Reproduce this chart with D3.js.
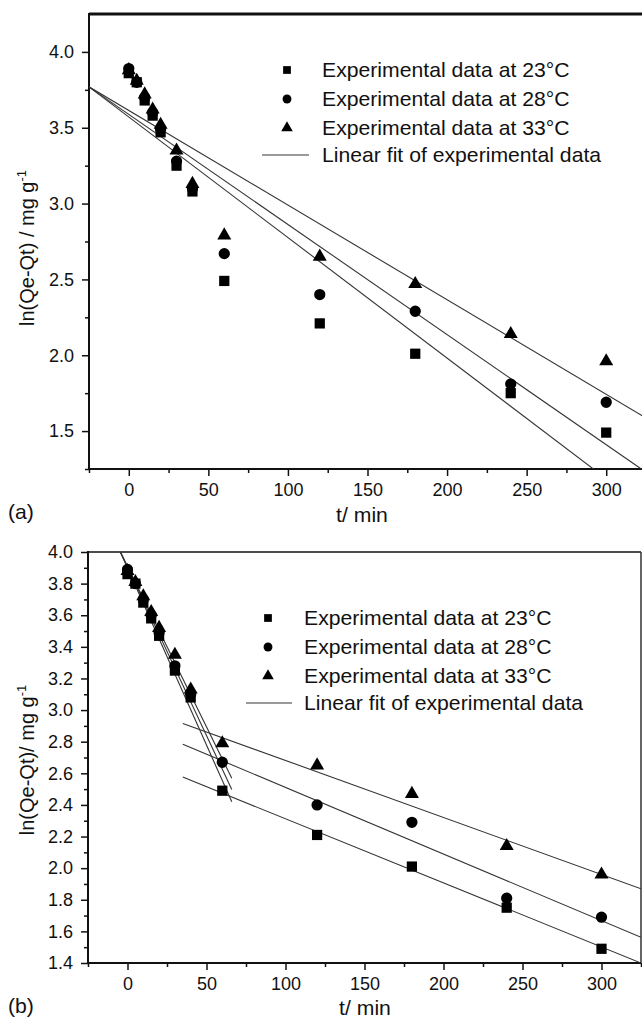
<!DOCTYPE html>
<html>
<head>
<meta charset="utf-8">
<script src="https://cdn.jsdelivr.net/npm/d3@7"></script>
<style>
  body { margin: 0; background: #fff; }
  svg { display: block; font-family: "Liberation Sans", Arial, sans-serif; }
  .tick text { font-size: 18px; fill: #111; }
  .domain { display: none; }
</style>
</head>
<body>
<div id="container"></div>
<script>
// data: sampling times (min) and ln(Qe-Qt)
var times = [0, 5, 10, 15, 20, 30, 40, 60, 120, 180, 240, 300];
var q23 = [3.86, 3.80, 3.68, 3.58, 3.47, 3.25, 3.08, 2.49, 2.21, 2.01, 1.75, 1.49];
var q28 = [3.89, 3.80, 3.70, 3.60, 3.49, 3.28, 3.10, 2.67, 2.40, 2.29, 1.81, 1.69];
var q33 = [3.88, 3.81, 3.72, 3.62, 3.52, 3.35, 3.13, 2.79, 2.65, 2.47, 2.14, 1.96];
var seriesNames = ["Experimental data at 23°C", "Experimental data at 28°C", "Experimental data at 33°C"];

// panel (a): one linear fit per temperature
var fitA_slope = [-0.00795, -0.00726, -0.00624];
var fitA_int = [3.571, 3.588, 3.614];
var fitA_range = [-25, 325];

// panel (b): two-stage fits
var fitB1_slope = [-0.0224, -0.0213, -0.0203];
var fitB1_int = [3.899, 3.904, 3.909];
var fitB1_range = [-4.5, 66];
var fitB2_slope = [-0.004055, -0.004214, -0.003607];
var fitB2_int = [2.718, 2.932, 3.042];
var fitB2_range = [35, 325];

var xMajor = [0, 50, 100, 150, 200, 250, 300];
var xMinor = [-25, 25, 75, 125, 175, 225, 275, 325];
var yMajorA = [1.5, 2.0, 2.5, 3.0, 3.5, 4.0];
var yMinorA = [1.25, 1.75, 2.25, 2.75, 3.25, 3.75];
var yMajorB = [1.4, 1.6, 1.8, 2.0, 2.2, 2.4, 2.6, 2.8, 3.0, 3.2, 3.4, 3.6, 3.8, 4.0];
var yMinorB = [1.5, 1.7, 1.9, 2.1, 2.3, 2.5, 2.7, 2.9, 3.1, 3.3, 3.5, 3.7, 3.9];

var width = 642, height = 1020;
var svg = d3.select("div#container").append("svg")
    .attr("width", width)
    .attr("height", height);

var symbols = [d3.symbolSquare, d3.symbolCircle, d3.symbolTriangle];
var symSize = [105, 100, 85];
var legSize = [60, 62, 58];
var allSeries = [q23, q28, q33];

// the original figure is a bit wider than tall, stretch text to match
function wideText(sel, x, y, txt) {
  return sel.append("text")
    .attr("transform", "translate(" + x + "," + y + ") scale(1.06,1)")
    .style("font-size", "20px").attr("fill", "#111").text(txt);
}

function drawPanel(cfg) {
  var x = d3.scaleLinear().domain([-25, 325]).range([cfg.left, cfg.right]);
  var y = d3.scaleLinear().domain(cfg.yDomain).range([cfg.bottom, cfg.top]);
  var g = svg.append("g").attr("id", cfg.id);

  g.append("clipPath").attr("id", cfg.id + "clip")
    .append("rect")
      .attr("x", cfg.left).attr("y", cfg.top)
      .attr("width", cfg.right - cfg.left).attr("height", cfg.bottom - cfg.top);

  // axes with major + minor ticks
  g.append("g").attr("transform", "translate(0," + cfg.bottom + ")")
    .call(d3.axisBottom(x).tickValues(xMajor).tickSize(7).tickPadding(7).tickFormat(d3.format("d")))
    .selectAll("line").attr("stroke", "#111").attr("stroke-width", 1.5);
  g.append("g").attr("transform", "translate(0," + cfg.bottom + ")")
    .call(d3.axisBottom(x).tickValues(xMinor).tickSize(4).tickFormat(""))
    .selectAll("line").attr("stroke", "#111").attr("stroke-width", 1.5);
  g.append("g").attr("transform", "translate(" + cfg.left + ",0)")
    .call(d3.axisLeft(y).tickValues(cfg.yMajor).tickSize(7).tickPadding(8).tickFormat(d3.format(".1f")))
    .selectAll("line").attr("stroke", "#111").attr("stroke-width", 1.5);
  g.append("g").attr("transform", "translate(" + cfg.left + ",0)")
    .call(d3.axisLeft(y).tickValues(cfg.yMinor).tickSize(4).tickFormat(""))
    .selectAll("line").attr("stroke", "#111").attr("stroke-width", 1.5);

  // frame
  g.append("line").attr("x1", cfg.left).attr("x2", cfg.right).attr("y1", cfg.top).attr("y2", cfg.top)
    .attr("stroke", "#111").attr("stroke-width", cfg.topWidth);
  g.append("line").attr("x1", cfg.right).attr("x2", cfg.right).attr("y1", cfg.top).attr("y2", cfg.bottom)
    .attr("stroke", "#333").attr("stroke-width", 1.5);
  g.append("line").attr("x1", cfg.left).attr("x2", cfg.left).attr("y1", cfg.top - 1).attr("y2", cfg.bottom + 1)
    .attr("stroke", "#111").attr("stroke-width", 2);
  g.append("line").attr("x1", cfg.left - 1).attr("x2", cfg.right).attr("y1", cfg.bottom).attr("y2", cfg.bottom)
    .attr("stroke", "#111").attr("stroke-width", 2);

  // fit lines
  var fits = g.append("g").attr("clip-path", "url(#" + cfg.id + "clip)");
  cfg.fits.forEach(function(f) {
    f.slope.forEach(function(s, i) {
      var t0 = f.range[0], t1 = f.range[1];
      fits.append("line")
        .attr("x1", x(t0)).attr("y1", y(f.intercept[i] + s * t0))
        .attr("x2", x(t1)).attr("y2", y(f.intercept[i] + s * t1))
        .attr("stroke", "#333").attr("stroke-width", 1.1);
    });
  });

  // markers
  allSeries.forEach(function(vals, i) {
    g.append("g").selectAll("path")
      .data(vals)
      .enter()
      .append("path")
        .attr("d", d3.symbol().type(symbols[i]).size(symSize[i]))
        .attr("transform", function(d, k) { return "translate(" + x(times[k]) + "," + y(d) + ")"; })
        .attr("fill", "#000");
  });

  // legend
  var leg = g.append("g");
  seriesNames.forEach(function(name, i) {
    var ry = cfg.legY + i * cfg.legStep;
    leg.append("path")
      .attr("d", d3.symbol().type(symbols[i]).size(legSize[i]))
      .attr("transform", "translate(" + cfg.legMarkX + "," + ry + ")")
      .attr("fill", "#000");
    wideText(leg, cfg.legTextX, ry + 7, name);
  });
  var ly = cfg.legY + 3 * cfg.legStep - 2;
  leg.append("line").attr("x1", cfg.legLine[0]).attr("x2", cfg.legLine[1]).attr("y1", ly).attr("y2", ly)
    .attr("stroke", "#777").attr("stroke-width", 1.5);
  wideText(leg, cfg.legTextX, ly + 7, "Linear fit of experimental data");

  // axis titles
  wideText(g, cfg.xTitleX, cfg.xTitleY, "t/ min").attr("text-anchor", "middle");
  wideText(g, 8, cfg.panelY, cfg.panel);
  var yt = g.append("text")
    .attr("transform", "translate(34," + cfg.yTitleY + ") rotate(-90)")
    .attr("text-anchor", "middle").style("font-size", "20px").attr("fill", "#111");
  yt.append("tspan").text(cfg.yTitle);
  yt.append("tspan").attr("dy", -8).style("font-size", "13px").text("-1");
}

drawPanel({
  id: "panelA", left: 89, right: 646, top: 14, bottom: 469,
  yDomain: [1.25, 4.25], yMajor: yMajorA, yMinor: yMinorA, topWidth: 3,
  fits: [{slope: fitA_slope, intercept: fitA_int, range: fitA_range}],
  legY: 70, legStep: 29, legMarkX: 287, legTextX: 322, legLine: [262, 309],
  xTitleX: 362, xTitleY: 522, panel: "(a)", panelY: 519,
  yTitle: "ln(Qe-Qt) / mg g", yTitleY: 248
});

drawPanel({
  id: "panelB", left: 88, right: 641, top: 552, bottom: 963,
  yDomain: [1.4, 4.0], yMajor: yMajorB, yMinor: yMinorB, topWidth: 1.5,
  fits: [{slope: fitB1_slope, intercept: fitB1_int, range: fitB1_range},
         {slope: fitB2_slope, intercept: fitB2_int, range: fitB2_range}],
  legY: 618, legStep: 29, legMarkX: 268, legTextX: 304, legLine: [246, 292],
  xTitleX: 365, xTitleY: 1015, panel: "(b)", panelY: 1013,
  yTitle: "ln(Qe-Qt)/ mg g", yTitleY: 760
});
</script>
</body>
</html>
